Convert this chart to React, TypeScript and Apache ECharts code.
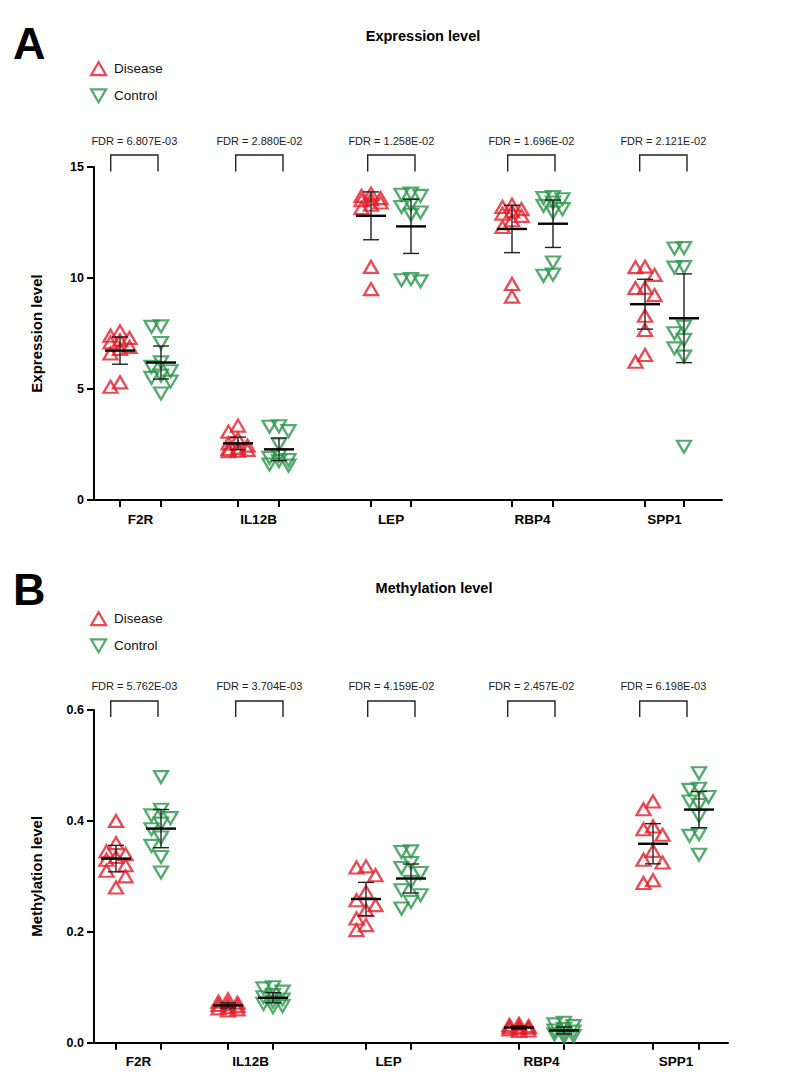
import React, { useEffect, useRef } from "react";
import * as echarts from "echarts";

// ---------------- DATA ----------------
const genes = ["F2R", "IL12B", "LEP", "RBP4", "SPP1"];
const exprFDR = ["6.807E-03", "2.880E-02", "1.258E-02", "1.696E-02", "2.121E-02"];
const methFDR = ["5.762E-03", "3.704E-03", "4.159E-02", "2.457E-02", "6.198E-03"];
const exprTicks = [0, 5, 10, 15];
const methTicks = [0, 0.2, 0.4, 0.6];

// Expression level, one row per gene (F2R, IL12B, LEP, RBP4, SPP1), n = 10
const exprDisease = [
  [7.6, 7.4, 7.3, 7.2, 7.1, 6.9, 6.8, 6.6, 5.3, 5.1],
  [3.35, 3.08, 2.75, 2.55, 2.45, 2.35, 2.3, 2.25, 2.22, 2.2],
  [13.8, 13.7, 13.6, 13.55, 13.5, 13.4, 13.3, 13.15, 10.5, 9.5],
  [13.3, 13.2, 13.1, 13.0, 12.9, 12.8, 12.6, 12.3, 9.73, 9.16],
  [10.51, 10.49, 10.14, 9.56, 9.55, 9.23, 8.3, 7.66, 6.53, 6.23],
];
const exprControl = [
  [7.82, 7.8, 7.07, 6.2, 6.0, 5.8, 5.6, 5.5, 5.33, 4.8],
  [3.32, 3.3, 3.1, 2.5, 2.0, 1.9, 1.8, 1.75, 1.6, 1.55],
  [13.8, 13.75, 13.7, 13.3, 13.2, 12.95, 12.85, 9.95, 9.9, 9.85],
  [13.65, 13.6, 13.55, 13.4, 13.25, 13.1, 12.95, 10.7, 10.15, 10.1],
  [11.35, 11.33, 10.49, 10.47, 7.81, 7.51, 7.21, 6.83, 6.46, 2.4],
];
// Methylation level
const methDisease = [
  [0.4, 0.36, 0.345, 0.34, 0.335, 0.33, 0.32, 0.31, 0.3, 0.28],
  [0.078, 0.074, 0.072, 0.07, 0.068, 0.066, 0.064, 0.062, 0.06, 0.058],
  [0.318, 0.316, 0.302, 0.272, 0.257, 0.248, 0.239, 0.224, 0.212, 0.203],
  [0.034, 0.032, 0.03, 0.029, 0.028, 0.027, 0.026, 0.024, 0.022, 0.021],
  [0.435, 0.421, 0.39, 0.385, 0.375, 0.346, 0.33, 0.325, 0.293, 0.288],
];
const methControl = [
  [0.479, 0.42, 0.41, 0.405, 0.395, 0.385, 0.37, 0.355, 0.335, 0.307],
  [0.1, 0.098, 0.092, 0.086, 0.082, 0.078, 0.074, 0.07, 0.066, 0.064],
  [0.345, 0.344, 0.324, 0.315, 0.306, 0.29, 0.275, 0.266, 0.254, 0.242],
  [0.036, 0.033, 0.03, 0.025, 0.022, 0.02, 0.017, 0.015, 0.012, 0.01],
  [0.486, 0.458, 0.456, 0.443, 0.435, 0.429, 0.409, 0.376, 0.373, 0.339],
];
const T975_DF9 = 2.262; // t quantile for 95% CI, n = 10

// ---------------- LAYOUT ----------------
const FONT = "'Liberation Sans', Arial, sans-serif";
const RED = "#E41E2A";
const GREEN = "#2A9648";
const DOWN_TRI = "path://M0,0L20,0L10,17.3Z";

const panels = [
  {
    grid: { left: 94, top: 167, width: 628, height: 333 },
    yMax: 15, yInterval: 5, ticks: exprTicks, digits: 0,
    disease: exprDisease, control: exprControl, fdr: exprFDR,
    posD: [26, 144, 277, 418, 551], posC: [67, 185, 317, 459, 590],
    title: "Expression level", titleX: 423, titleY: 36,
    letter: "A", letterY: 43, legendTop: 61, yName: "Expression level",
    brTop: -12, brBot: 4.5, fdrY: -26,
  },
  {
    grid: { left: 94, top: 710, width: 634, height: 332.7 },
    yMax: 0.6, yInterval: 0.2, ticks: methTicks, digits: 1,
    disease: methDisease, control: methControl, fdr: methFDR,
    posD: [22, 134, 272, 425, 559], posC: [67, 179, 317, 470, 605],
    title: "Methylation level", titleX: 434, titleY: 588,
    letter: "B", letterY: 589, legendTop: 611, yName: "Methylation level",
    brTop: -9, brBot: 7, fdrY: -24,
  },
];
const bracketLeft = [16.7, 141.7, 273.7, 413.7, 545.7];
const bracketWidth = 47.3;

function swarm(vals: number[], pxPerUnit: number): number[] {
  const placed: { x: number; y: number }[] = [];
  const cands = [0, -9.5, 9.5];
  const out: number[] = [];
  for (const v of vals) {
    const y = v * pxPerUnit;
    let best = 0;
    let bestD = -1;
    for (const c of cands) {
      let d = Infinity;
      for (const p of placed) d = Math.min(d, Math.hypot(p.x - c, p.y - y));
      if (d >= 11) { best = c; break; }
      if (d > bestD) { bestD = d; best = c; }
    }
    placed.push({ x: best, y });
    out.push(best);
  }
  return out;
}

function stats(vals: number[]): [number, number, number] {
  const n = vals.length;
  const m = vals.reduce((a, b) => a + b, 0) / n;
  const sd = Math.sqrt(vals.reduce((a, b) => a + (b - m) * (b - m), 0) / (n - 1));
  const ci = (T975_DF9 * sd) / Math.sqrt(n);
  return [m, m - ci, m + ci];
}

function buildOption() {
  const grid: any[] = [];
  const xAxis: any[] = [];
  const yAxis: any[] = [];
  const series: any[] = [];
  const legend: any[] = [];
  const graphic: any[] = [];

  panels.forEach((p, pi) => {
    grid.push({ ...p.grid, containLabel: false });
    const centers = p.posD.map((d, i) => (d + p.posC[i]) / 2);
    const tickVals = [...p.posD, ...p.posC].sort((a, b) => a - b);
    xAxis.push({
      gridIndex: pi, type: "value", min: 0, max: p.grid.width,
      axisLine: { show: true, onZero: false, lineStyle: { color: "#000", width: 2 } },
      axisTick: { show: true, customValues: tickVals, length: 7, lineStyle: { color: "#000", width: 2 } },
      axisLabel: {
        show: true, customValues: centers, margin: 12,
        formatter: (v: number) => genes[centers.findIndex((c) => Math.abs(c - v) < 1e-6)] ?? "",
        fontFamily: FONT, fontWeight: "bold", fontSize: 13.5, color: "#000",
      },
      splitLine: { show: false },
    });
    yAxis.push({
      gridIndex: pi, type: "value", min: 0, max: p.yMax, interval: p.yInterval,
      name: p.yName, nameLocation: "middle", nameGap: 50, nameRotate: 90,
      nameTextStyle: { fontFamily: FONT, fontWeight: "bold", fontSize: 15, color: "#000" },
      axisLine: { show: true, lineStyle: { color: "#000", width: 2 } },
      axisTick: { show: true, length: 7, lineStyle: { color: "#000", width: 2 } },
      axisLabel: {
        margin: 10, fontFamily: FONT, fontWeight: "bold", fontSize: 12.5, color: "#000",
        formatter: (v: number) => v.toFixed(p.digits),
      },
      splitLine: { show: false },
    });

    const pxPerUnit = p.grid.height / p.yMax;
    const groups = [
      { name: "Disease", vals: p.disease, pos: p.posD, color: RED, symbol: "triangle" },
      { name: "Control", vals: p.control, pos: p.posC, color: GREEN, symbol: DOWN_TRI },
    ];
    groups.forEach((g) => {
      const pts: number[][] = [];
      g.vals.forEach((arr, gi) => {
        const off = swarm(arr, pxPerUnit);
        arr.forEach((v, k) => pts.push([g.pos[gi] + off[k], v]));
      });
      series.push({
        name: g.name, type: "scatter", xAxisIndex: pi, yAxisIndex: pi,
        data: pts, symbol: g.symbol, symbolSize: [14, 12],
        itemStyle: { color: "rgba(255,255,255,0)", borderColor: g.color, borderWidth: 2.3 },
        emphasis: { disabled: true }, z: 2, silent: true,
      });
      const bars = g.vals.map((arr, gi) => {
        const [m, lo, hi] = stats(arr);
        return [g.pos[gi], m, lo, hi];
      });
      series.push({
        type: "custom", xAxisIndex: pi, yAxisIndex: pi, z: 5, silent: true,
        data: bars, encode: { x: 0, y: 1 },
        renderItem: (_params: any, api: any) => {
          const x = api.value(0);
          const pm = api.coord([x, api.value(1)]);
          const pl = api.coord([x, api.value(2)]);
          const ph = api.coord([x, api.value(3)]);
          const thin = { stroke: "#222", lineWidth: 1.4 };
          return {
            type: "group",
            children: [
              { type: "line", shape: { x1: pl[0], y1: pl[1], x2: ph[0], y2: ph[1] }, style: thin },
              { type: "line", shape: { x1: ph[0] - 8, y1: ph[1], x2: ph[0] + 8, y2: ph[1] }, style: thin },
              { type: "line", shape: { x1: pl[0] - 8, y1: pl[1], x2: pl[0] + 8, y2: pl[1] }, style: thin },
              { type: "line", shape: { x1: pm[0] - 15, y1: pm[1], x2: pm[0] + 15, y2: pm[1] }, style: { stroke: "#000", lineWidth: 2.4 } },
            ],
          };
        },
      });
    });

    // FDR brackets
    const brData = bracketLeft.map((l, i) => [l, p.yMax, l + bracketWidth, i]);
    series.push({
      type: "custom", xAxisIndex: pi, yAxisIndex: pi, z: 5, silent: true, clip: false,
      data: brData, encode: { x: [0, 2], y: 1 },
      renderItem: (_params: any, api: any) => {
        const a = api.coord([api.value(0), api.value(1)]);
        const b = api.coord([api.value(2), api.value(1)]);
        const idx = api.value(3);
        const t = a[1] + p.brTop;
        const bt = a[1] + p.brBot;
        return {
          type: "group",
          children: [
            { type: "polyline", shape: { points: [[a[0], bt], [a[0], t], [b[0], t], [b[0], bt]] }, style: { stroke: "#222", lineWidth: 1.4, fill: null } },
            {
              type: "text", x: (a[0] + b[0]) / 2, y: a[1] + p.fdrY,
              style: { text: "FDR = " + p.fdr[idx], fill: "#222", font: `11px ${FONT}`, align: "center", verticalAlign: "middle" },
            },
          ],
        };
      },
    });

    legend.push({
      data: [
        { name: "Disease", icon: "triangle" },
        { name: "Control", icon: DOWN_TRI },
      ],
      orient: "vertical", left: 90, top: p.legendTop, padding: 0,
      itemWidth: 15, itemHeight: 13, itemGap: 12,
      selectedMode: false,
      itemStyle: { borderWidth: 2.2 },
      textStyle: { fontFamily: FONT, fontSize: 13.5, color: "#111", padding: [0, 0, 0, 3] },
    });

    graphic.push({
      type: "text", x: p.titleX, y: p.titleY,
      style: { text: p.title, font: `bold 14.5px ${FONT}`, fill: "#000", textAlign: "center", textVerticalAlign: "middle" },
    });
    graphic.push({
      type: "text", x: 13, y: p.letterY,
      style: { text: p.letter, font: `bold 45px ${FONT}`, fill: "#000", textAlign: "left", textVerticalAlign: "middle" },
    });
  });

  return { animation: false, backgroundColor: "#fff", grid, xAxis, yAxis, series, legend, graphic };
}

export default function App() {
  const ref = useRef<HTMLDivElement>(null);
  useEffect(() => {
    if (!ref.current) return;
    const chart = echarts.init(ref.current, undefined, { renderer: "svg" });
    chart.setOption(buildOption());
    return () => chart.dispose();
  }, []);
  return (
    <div
      ref={ref}
      style={{ position: "absolute", left: 0, top: 0, width: 799, height: 1090, background: "#fff" }}
    />
  );
}
